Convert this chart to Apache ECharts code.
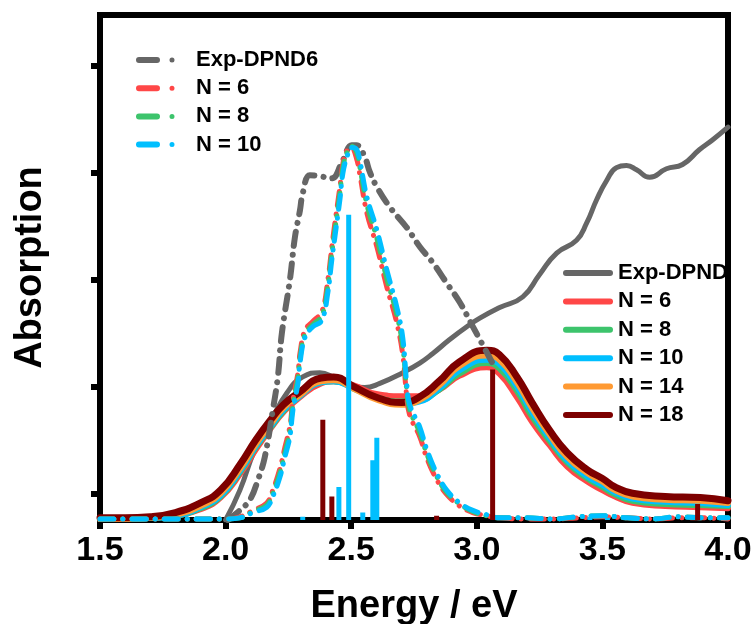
<!DOCTYPE html>
<html>
<head>
<meta charset="utf-8">
<script src="https://cdn.jsdelivr.net/npm/echarts@6/dist/echarts.min.js"></script>
<style>
  html, body { margin: 0; padding: 0; background: #fff; }
  #chart { width: 756px; height: 624px; }
</style>
</head>
<body>
<div id="chart"></div>
<script>
// experimental spectra
const expE = [2.0, 2.057, 2.117, 2.176, 2.244, 2.307, 2.375, 2.435, 2.494, 2.554, 2.614, 2.705, 2.773, 2.825, 2.892, 2.96, 3.012, 3.091, 3.183, 3.25, 3.318, 3.397, 3.437, 3.477, 3.517, 3.556, 3.596, 3.636, 3.688, 3.755, 3.819, 3.887, 3.938, 4.0]
const expA = [0.0, 0.28, 0.66, 0.91, 1.19, 1.34, 1.38, 1.33, 1.27, 1.24, 1.28, 1.38, 1.47, 1.56, 1.69, 1.81, 1.89, 1.99, 2.09, 2.3, 2.5, 2.62, 2.78, 3.0, 3.18, 3.3, 3.32, 3.28, 3.21, 3.29, 3.33, 3.47, 3.56, 3.68]

const exp6E = [2.009, 2.057, 2.097, 2.128, 2.156, 2.188, 2.208, 2.224, 2.256, 2.276, 2.296, 2.307, 2.335, 2.375, 2.423, 2.463, 2.502, 2.522, 2.554, 2.574, 2.602, 2.654, 2.721, 2.773, 2.825, 2.88, 2.932, 2.98, 3.019, 3.06]
const exp6A = [0.0, 0.09, 0.19, 0.37, 0.59, 1.03, 1.34, 1.75, 2.25, 2.65, 2.9, 3.06, 3.23, 3.22, 3.2, 3.35, 3.51, 3.51, 3.4, 3.26, 3.12, 2.93, 2.74, 2.56, 2.41, 2.22, 2.04, 1.83, 1.66, 1.48]

// computed spectra, narrow broadening (dash-dot set)
const narrowE = [1.5, 1.7, 1.9, 2.0, 2.057, 2.109, 2.164, 2.188, 2.216, 2.236, 2.256, 2.268, 2.288, 2.296, 2.316, 2.347, 2.383, 2.407, 2.423, 2.435, 2.455, 2.467, 2.483, 2.502, 2.522, 2.534, 2.562, 2.602, 2.642, 2.681, 2.705, 2.721, 2.733, 2.773, 2.801, 2.84, 2.88, 2.932, 2.984, 3.039, 3.091, 3.2, 3.3, 3.4, 3.5, 3.6, 3.7, 3.8, 3.9, 4.0]
const narrow6 = [0.01, 0.01, 0.01, 0.01, 0.03, 0.09, 0.16, 0.28, 0.48, 0.68, 0.88, 1.12, 1.38, 1.56, 1.78, 1.86, 1.95, 2.25, 2.56, 2.78, 3.12, 3.34, 3.46, 3.48, 3.38, 3.24, 2.88, 2.56, 2.18, 1.85, 1.55, 1.16, 0.98, 0.78, 0.58, 0.38, 0.24, 0.13, 0.07, 0.04, 0.02, 0.01, 0.01, 0.02, 0.03, 0.02, 0.01, 0.02, 0.02, 0.01]
const narrow8 = [0.01, 0.01, 0.01, 0.01, 0.02, 0.08, 0.14, 0.25, 0.44, 0.63, 0.83, 1.08, 1.33, 1.51, 1.74, 1.83, 1.91, 2.19, 2.5, 2.71, 3.06, 3.3, 3.44, 3.5, 3.44, 3.31, 2.96, 2.64, 2.26, 1.93, 1.63, 1.22, 1.03, 0.82, 0.62, 0.41, 0.26, 0.15, 0.08, 0.04, 0.02, 0.02, 0.01, 0.03, 0.04, 0.02, 0.01, 0.03, 0.02, 0.02]
const narrow10 = [0.01, 0.01, 0.01, 0.01, 0.02, 0.07, 0.12, 0.22, 0.4, 0.59, 0.78, 1.03, 1.28, 1.47, 1.71, 1.81, 1.87, 2.13, 2.44, 2.65, 3.0, 3.25, 3.4, 3.49, 3.47, 3.37, 3.03, 2.72, 2.34, 2.0, 1.71, 1.28, 1.08, 0.87, 0.66, 0.44, 0.28, 0.16, 0.09, 0.05, 0.02, 0.02, 0.01, 0.03, 0.04, 0.02, 0.01, 0.03, 0.02, 0.02]

// computed spectra, wide broadening (solid set)
const wideE = [1.5, 1.6, 1.7, 1.8, 1.9, 1.98, 2.06, 2.12, 2.18, 2.23, 2.29, 2.38, 2.43, 2.51, 2.6, 2.7, 2.77, 2.85, 2.93, 3.04, 3.09, 3.16, 3.22, 3.29, 3.36, 3.44, 3.5, 3.55, 3.62, 3.75, 3.89, 4.0]
const wide6 = [0.01, 0.01, 0.02, 0.04, 0.1, 0.21, 0.44, 0.66, 0.86, 1.01, 1.14, 1.28, 1.3, 1.26, 1.18, 1.16, 1.16, 1.22, 1.35, 1.43, 1.37, 1.15, 0.92, 0.7, 0.5, 0.36, 0.28, 0.22, 0.16, 0.13, 0.12, 0.11]
const wide8 = [0.01, 0.01, 0.02, 0.04, 0.11, 0.22, 0.46, 0.68, 0.87, 1.02, 1.15, 1.29, 1.3, 1.24, 1.15, 1.11, 1.12, 1.22, 1.37, 1.47, 1.42, 1.21, 0.97, 0.74, 0.54, 0.39, 0.31, 0.24, 0.18, 0.15, 0.14, 0.13]
const wide10 = [0.01, 0.01, 0.02, 0.04, 0.12, 0.23, 0.47, 0.69, 0.88, 1.03, 1.15, 1.29, 1.3, 1.23, 1.14, 1.09, 1.11, 1.23, 1.4, 1.5, 1.46, 1.25, 1.01, 0.77, 0.56, 0.41, 0.33, 0.26, 0.2, 0.17, 0.16, 0.14]
const wide14 = [0.01, 0.01, 0.02, 0.05, 0.13, 0.25, 0.49, 0.71, 0.9, 1.05, 1.16, 1.3, 1.31, 1.23, 1.13, 1.08, 1.12, 1.26, 1.44, 1.54, 1.5, 1.29, 1.05, 0.8, 0.59, 0.44, 0.36, 0.28, 0.22, 0.19, 0.18, 0.16]
const wide18 = [0.02, 0.02, 0.03, 0.07, 0.16, 0.28, 0.53, 0.75, 0.94, 1.08, 1.19, 1.33, 1.34, 1.25, 1.15, 1.1, 1.15, 1.3, 1.48, 1.59, 1.55, 1.34, 1.1, 0.84, 0.63, 0.47, 0.39, 0.31, 0.25, 0.22, 0.21, 0.18]

// stick spectra
const stick10E = [2.307, 2.451, 2.49, 2.546, 2.586, 2.602, 3.45, 3.52]
const stick10H = [0.03, 0.31, 2.86, 0.07, 0.56, 0.77, 0.03, 0.02]
const stick18E = [2.387, 2.423, 2.84, 3.063, 3.879]
const stick18H = [0.94, 0.22, 0.04, 1.41, 0.15]

const xTicks = [1.5, 2.0, 2.5, 3.0, 3.5, 4.0]
const yTicks = [0.25, 1.25, 2.25, 3.25, 4.25]

const FONT = 'Liberation Sans, Arial, sans-serif'
const GRAY = '#666666'
const RED = '#ff4747'
const GREEN = '#3dc46c'
const BLUE = '#00bfff'
const ORANGE = '#ff9a33'
const DARK = '#7d0000'

const pairs = (xs, ys) => xs.map((x, i) => [x, ys[i]])
const sticks = (xs, hs) => xs.flatMap((x, i) => [[x, 0], [x, hs[i]], [x, '-']])

const DASH_ICON = 'path://M3,0 H21 A3,3 0 0 1 21,6 H3 A3,3 0 0 1 3,0 Z M36,0.5 A2.5,2.5 0 1 1 36,5.5 A2.5,2.5 0 1 1 36,0.5 Z M55,3 L55,3.01'
const LINE_ICON = 'path://M3,0 H47 A3,3 0 0 1 47,6 H3 A3,3 0 0 1 3,0 Z'

function solid(name, data, color, width) {
  return {
    name, type: 'line', data, smooth: 0.5, showSymbol: false, symbol: 'none',
    itemStyle: { color },
    lineStyle: { color, width, cap: 'round', join: 'round' },
    emphasis: { disabled: true }, animation: false,
  }
}
function dashdot(name, data, color, width) {
  return {
    name, type: 'line', data, smooth: 0.4, showSymbol: false, symbol: 'none',
    itemStyle: { color },
    lineStyle: { color, width, type: [14, 9, 0.1, 9], cap: 'round', join: 'round' },
    emphasis: { disabled: true }, animation: false,
  }
}
function stickSeries(name, data, color) {
  return {
    name, type: 'line', data, showSymbol: false, symbol: 'none', connectNulls: false,
    itemStyle: { color },
    lineStyle: { color, width: 5, cap: 'butt' },
    emphasis: { disabled: true }, animation: false,
  }
}

const legendText = { fontSize: 22, fontWeight: 'bold', color: '#000', fontFamily: FONT, lineHeight: 22 }

const chart = echarts.init(document.getElementById('chart'), null, { renderer: 'canvas' })
chart.setOption({
  animation: false,
  backgroundColor: '#fff',
  grid: {
    left: 100, right: 28, top: 15, bottom: 104, outerBoundsMode: 'none', containLabel: false,
    show: true, borderColor: '#000', borderWidth: 6,
  },
  legend: [
    {
      left: 131, top: 44, orient: 'vertical', itemWidth: 55, itemHeight: 6, itemGap: 6.2,
      selectedMode: false, textStyle: legendText, itemStyle: { borderWidth: 0 },
      data: ['Exp-DPND6', 'N = 6', 'N = 8', 'N = 10'].map(n => ({ name: n, icon: DASH_ICON })),
    },
    {
      left: 558, top: 257, orient: 'vertical', itemWidth: 50, itemHeight: 6, itemGap: 6.4,
      selectedMode: false, textStyle: legendText, itemStyle: { borderWidth: 0 },
      data: ['Exp-DPND', 'N = 6', 'N = 8', 'N = 10', 'N = 14', 'N = 18'].map(n => ({ name: n, icon: LINE_ICON })),
    },
  ],
  xAxis: {
    type: 'value', min: xTicks[0], max: xTicks[xTicks.length - 1], interval: 0.5,
    name: 'Energy / eV', nameLocation: 'middle', nameGap: 68,
    nameTextStyle: { fontSize: 38, fontWeight: 'bold', color: '#000', fontFamily: FONT },
    axisLine: { lineStyle: { color: '#000', width: 6 } },
    axisTick: { inside: false, length: 9, lineStyle: { color: '#000', width: 6 } },
    axisLabel: { fontSize: 34, fontWeight: 'bold', color: '#000', fontFamily: FONT, margin: 14,
      formatter: v => v.toFixed(1) },
    splitLine: { show: false },
  },
  yAxis: {
    type: 'value', min: 0, max: 4.73,
    name: 'Absorption', nameLocation: 'middle', nameGap: 50,
    nameTextStyle: { fontSize: 38, fontWeight: 'bold', color: '#000', fontFamily: FONT },
    axisLine: { show: true, lineStyle: { color: '#000', width: 6 } },
    axisTick: { show: true, inside: false, length: 9, customValues: yTicks, lineStyle: { color: '#000', width: 6 } },
    axisLabel: { show: false },
    splitLine: { show: false },
  },
  series: [
    solid('Exp-DPND', pairs(expE, expA), GRAY, 5),
    solid('N = 6', pairs(wideE, wide6), RED, 6),
    solid('N = 8', pairs(wideE, wide8), GREEN, 6),
    solid('N = 10', pairs(wideE, wide10), BLUE, 6),
    solid('N = 14', pairs(wideE, wide14), ORANGE, 6),
    solid('N = 18', pairs(wideE, wide18), DARK, 7),
    dashdot('Exp-DPND6', pairs(exp6E, exp6A), GRAY, 6),
    dashdot('N = 6', pairs(narrowE, narrow6), RED, 5),
    dashdot('N = 8', pairs(narrowE, narrow8), GREEN, 5),
    dashdot('N = 10', pairs(narrowE, narrow10), BLUE, 5),
    stickSeries('N = 10 sticks', sticks(stick10E, stick10H), BLUE),
    stickSeries('N = 18 sticks', sticks(stick18E, stick18H), DARK),
  ],
})
</script>
</body>
</html>
